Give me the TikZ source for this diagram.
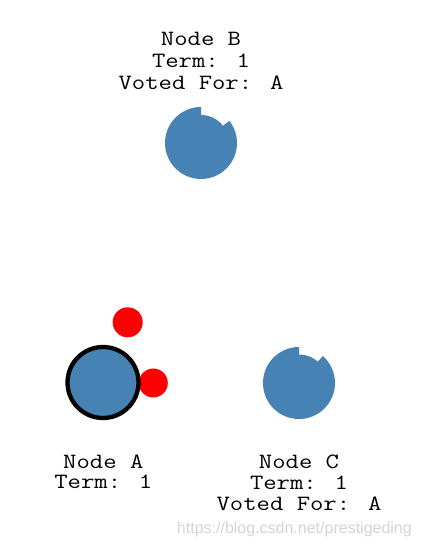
\documentclass[tikz,border=0pt]{standalone}
\usepackage{fontspec}
\usepackage{graphicx}
\newfontfamily\wmfont{Liberation Sans}
\newcommand\cour[1]{\scalebox{1.19}[1]{#1}}
\definecolor{steel}{HTML}{4682B4}
\definecolor{wmgray}{HTML}{D4D4D4}
\tikzset{
  lbl/.style={font=\fontsize{21.8}{22}\selectfont\ttfamily, inner sep=0pt, anchor=base, text=black},
  timer/.style={fill=steel},
  vote/.style={fill=red},
}
\begin{document}
\begin{tikzpicture}[x=1pt,y=1pt]
\useasboundingbox (0,0) rectangle (422,551);
% Node B
\coordinate (Bc) at (201,408);
\fill[timer] (Bc) circle (28);
\fill[timer] (Bc) -- ++(90:36) arc[start angle=90, end angle=398, radius=36] -- cycle;
\node[lbl] (B1) at (201,505) {\cour{Node B}};
\node[lbl] (B2) at (201,483) {\cour{Term: 1}};
\node[lbl] (B3) at (201,461) {\cour{Voted For: A}};
% Node C
\coordinate (Cc) at (299,168);
\fill[timer] (Cc) circle (28.5);
\fill[timer] (Cc) -- ++(90:36) arc[start angle=90, end angle=408.5, radius=36] -- cycle;
\node[lbl] (C1) at (299,82.7) {\cour{Node C}};
\node[lbl] (C2) at (299,61.5) {\cour{Term: 1}};
\node[lbl] (C3) at (299,40) {\cour{Voted For: A}};
% votes
\fill[vote] (127.7,228.7) circle (15);
\fill[vote] (153.3,168) circle (14.5);
% Node A
\filldraw[fill=steel, draw=black, line width=4.3pt] (103,168.5) circle (35.5);
\node[lbl] (A1) at (103.3,82.7) {\cour{Node A}};
\node[lbl] (A2) at (103.3,62) {\cour{Term: 1}};
% watermark
\node[font=\wmfont\fontsize{16}{16}\selectfont, text=wmgray, inner sep=0pt, anchor=base east] (wm) at (412,17) {https://blog.csdn.net/prestigeding};
\end{tikzpicture}
\end{document}
